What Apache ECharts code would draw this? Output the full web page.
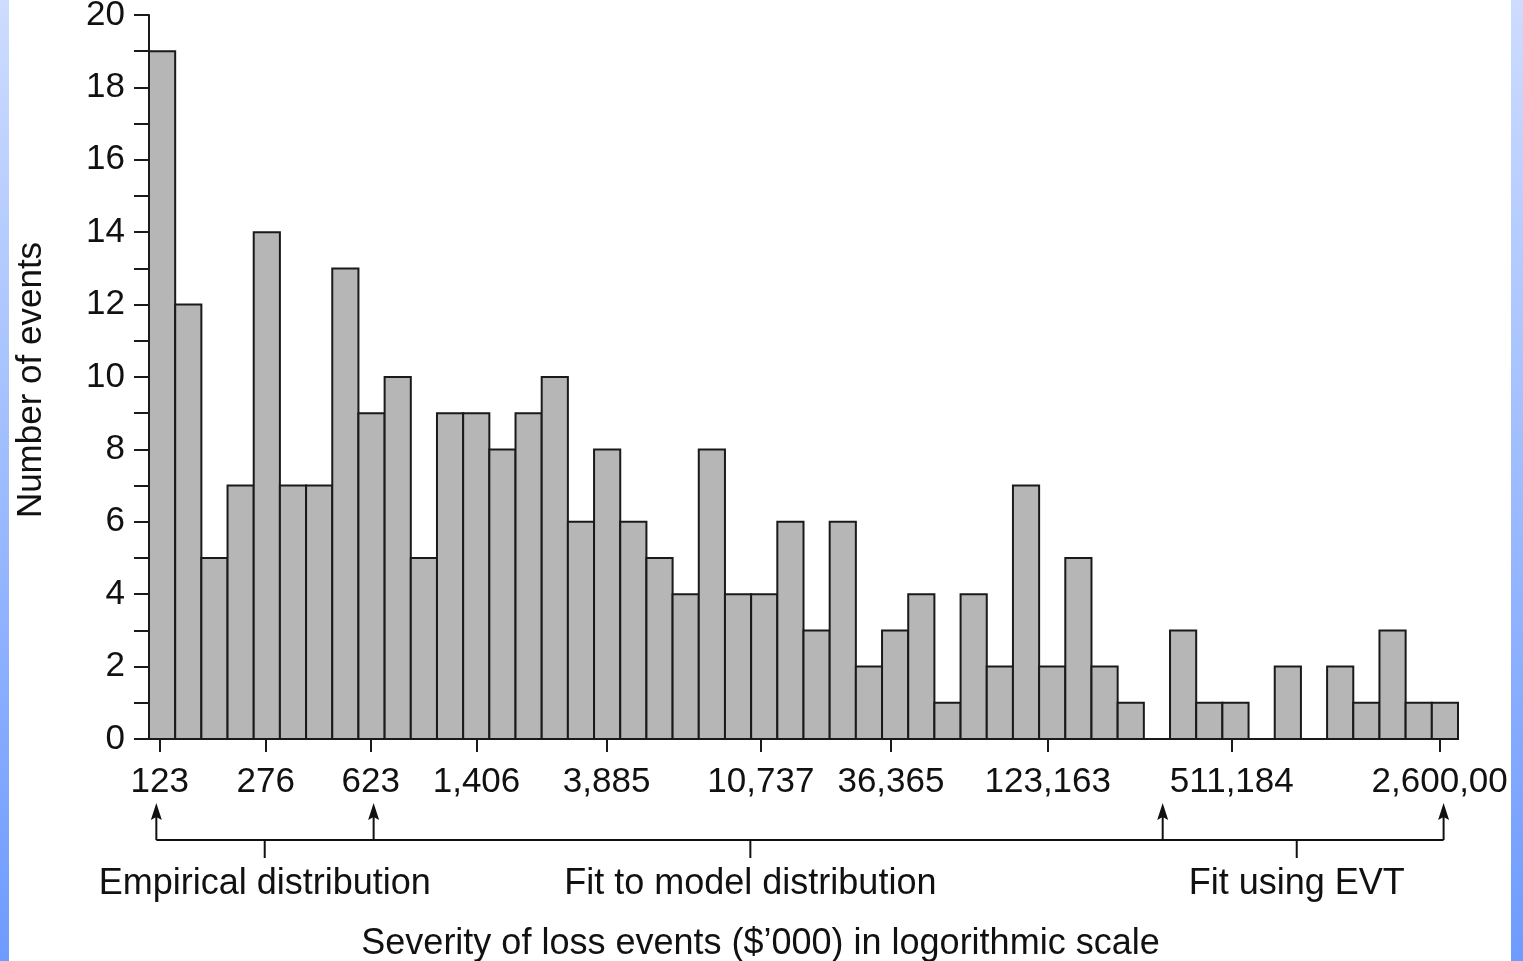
<!DOCTYPE html>
<html>
<head>
<meta charset="utf-8">
<script src="https://cdn.jsdelivr.net/npm/echarts@6/dist/echarts.min.js"></script>
<style>
html,body{margin:0;padding:0;background:#fff;}
#chart{width:1523px;height:961px;}
</style>
</head>
<body>
<div id="chart"></div>
<script>
// Histogram counts for each of the 50 log-scale bins (left to right)
var binCounts = [19, 12, 5, 7, 14, 7, 7, 13, 9, 10,
                 5, 9, 9, 8, 9, 10, 6, 8, 6, 5,
                 4, 8, 4, 4, 6, 3, 6, 2, 3, 4,
                 1, 4, 2, 7, 2, 5, 2, 1, 0, 3,
                 1, 1, 0, 2, 0, 2, 1, 3, 1, 1];
// x tick labels and their positions in bin units
var tickLabels = ['123', '276', '623', '1,406', '3,885', '10,737', '36,365', '123,163', '511,184', '2,600,00'];
var tickPositions = [0.41, 4.46, 8.47, 12.51, 17.48, 23.37, 28.34, 34.33, 41.36, 49.30];
// annotation bracket: up-arrows and segment labels (in bin units)
var arrowPositions = [0.28, 8.58, 38.72, 49.45];
var segmentLabels = ['Empirical distribution', 'Fit to model distribution', 'Fit using EVT'];
var segmentPositions = [4.42, 22.97, 43.84];

var FONT = '"Liberation Sans", Arial, Helvetica, sans-serif';
var chart = echarts.init(document.getElementById('chart'), null, {renderer: 'canvas'});

var data = binCounts.map(function (v, i) { return [i, v]; });

var option = {
  backgroundColor: '#ffffff',
  animation: false,
  grid: {left: 149, right: 65, top: 15, bottom: 222, containLabel: false, outerBoundsMode: 'none'},
  xAxis: {
    type: 'value', min: 0, max: 50,
    splitLine: {show: false},
    axisLine: {show: true, onZero: false, lineStyle: {color: '#1a1a1a', width: 2}},
    axisTick: {show: true, customValues: tickPositions, length: 13, lineStyle: {color: '#1a1a1a', width: 2}},
    axisLabel: {
      show: true, customValues: tickPositions, margin: 26,
      fontFamily: FONT, fontSize: 35, color: '#111',
      formatter: function (v) {
        for (var k = 0; k < tickPositions.length; k++) {
          if (Math.abs(tickPositions[k] - v) < 1e-6) return tickLabels[k];
        }
        return '';
      }
    },
    name: 'Severity of loss events ($\u2019000) in logorithmic scale',
    nameLocation: 'middle', nameGap: 187,
    nameTextStyle: {fontFamily: FONT, fontSize: 36, color: '#111', padding: [0, 86, 0, 0]}
  },
  yAxis: {
    type: 'value', min: 0, max: 20, interval: 1,
    splitLine: {show: false},
    axisLine: {show: true, lineStyle: {color: '#1a1a1a', width: 2}},
    axisTick: {show: true, length: 15, lineStyle: {color: '#1a1a1a', width: 2}},
    axisLabel: {
      margin: 24, fontFamily: FONT, fontSize: 35, color: '#111',
      padding: [10, 0, 0, 0],
      formatter: function (v) { return v % 2 === 0 ? String(v) : ''; }
    },
    name: 'Number of events', nameLocation: 'middle', nameGap: 100, nameRotate: 90,
    nameTextStyle: {fontFamily: FONT, fontSize: 35, color: '#111', padding: [0, 6, 0, 0]}
  },
  series: [{
    type: 'custom',
    data: data,
    encode: {x: 0, y: 1},
    clip: false,
    renderItem: function (params, api) {
      var i = api.value(0), v = api.value(1);
      var p0 = api.coord([i, v]);
      var p1 = api.coord([i + 1, 0]);
      return {
        type: 'rect',
        shape: {x: p0[0], y: p0[1], width: p1[0] - p0[0], height: p1[1] - p0[1]},
        style: {fill: '#b6b6b6', stroke: '#1a1a1a', lineWidth: 2}
      };
    }
  }]
};
chart.setOption(option);

function buildGraphics() {
  var baseY = chart.convertToPixel({gridIndex: 0}, [0, 0])[1];
  var lineY = baseY + 101;
  var arrowTop = baseY + 64;
  var px = function (v) { return chart.convertToPixel({gridIndex: 0}, [v, 0])[0]; };
  var g = [];
  var xs = arrowPositions.map(px);
  // horizontal bracket line
  g.push({type: 'line', shape: {x1: xs[0], y1: lineY, x2: xs[xs.length - 1], y2: lineY},
          style: {stroke: '#111', lineWidth: 2}, z: 10});
  xs.forEach(function (x) {
    g.push({type: 'line', shape: {x1: x, y1: lineY, x2: x, y2: arrowTop + 8},
            style: {stroke: '#111', lineWidth: 2}, z: 10});
    g.push({type: 'polygon', shape: {points: [[x, arrowTop], [x - 5.5, arrowTop + 17], [x, arrowTop + 14], [x + 5.5, arrowTop + 17]]},
            style: {fill: '#111'}, z: 10});
  });
  segmentPositions.forEach(function (v, k) {
    var x = px(v);
    g.push({type: 'line', shape: {x1: x, y1: lineY, x2: x, y2: lineY + 18},
            style: {stroke: '#111', lineWidth: 2}, z: 10});
    g.push({type: 'text', x: x, y: lineY + 44,
            style: {text: segmentLabels[k], fontFamily: FONT, fontSize: 36, fill: '#111',
                    align: 'center', verticalAlign: 'middle'}, z: 10});
  });
  // blue side frame stripes
  var grad = new echarts.graphic.LinearGradient(0, 0, 0, 1, [
    {offset: 0, color: '#cddcff'}, {offset: 1, color: '#6e9bff'}]);
  g.push({type: 'rect', shape: {x: 0, y: 0, width: 9, height: 961}, style: {fill: grad}, z: 100});
  g.push({type: 'rect', shape: {x: 1511, y: 0, width: 12, height: 961}, style: {fill: grad}, z: 100});
  chart.setOption({graphic: g});
}
buildGraphics();
</script>
</body>
</html>
